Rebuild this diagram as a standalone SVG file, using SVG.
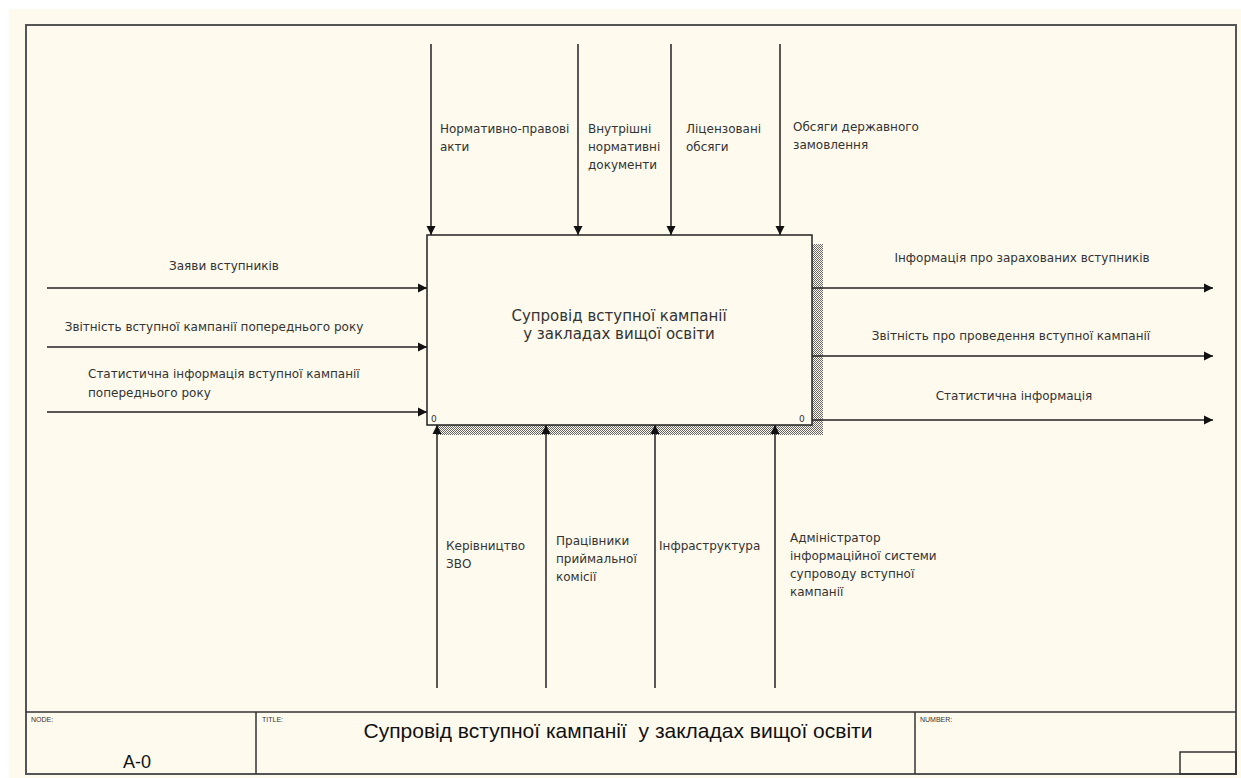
<svg xmlns="http://www.w3.org/2000/svg" width="1241" height="778" viewBox="0 0 1241 778">
<style>
.lbl{font-family:"DejaVu Sans","Liberation Sans",Arial,sans-serif;font-size:12px;fill:#333}
.box{fill:#fefaee;stroke:#222;stroke-width:1.5}
.arr{stroke:#222;stroke-width:1.5;fill:none;marker-end:url(#ah)}
.frame{fill:none;stroke:#555;stroke-width:2}
.fl{stroke:#333;stroke-width:1.5;fill:none}
.small{font-family:"Liberation Sans",Arial,sans-serif;font-size:7px;fill:#333}
.big{font-family:"Liberation Sans",Arial,sans-serif;fill:#111}
</style>
<defs>
<marker id="ah" viewBox="0 0 9 10" refX="9" refY="5" markerWidth="9" markerHeight="10" markerUnits="userSpaceOnUse" orient="auto">
<path d="M0,0.5 L9,5 L0,9.5 Z" fill="#111"/>
</marker>
<pattern id="hatch" width="2" height="2" patternUnits="userSpaceOnUse">
<rect width="2" height="2" fill="#fefaee"/>
<rect x="0" y="0" width="1" height="1" fill="#666"/>
<rect x="1" y="1" width="1" height="1" fill="#666"/>
</pattern>
</defs>
<rect x="0" y="0" width="1241" height="778" fill="#ffffff"/>
<rect x="9" y="9" width="1232" height="769" fill="#fefaee"/>
<rect class="frame" x="26" y="25" width="1210" height="749"/>

<g id="node-A0">
<rect x="812" y="244" width="11" height="191" fill="url(#hatch)"/>
<rect x="436" y="425" width="387" height="10" fill="url(#hatch)"/>
<rect class="box" x="427" y="235" width="385" height="190"/>
<text class="lbl" x="619" y="321" text-anchor="middle" style="font-size:15px">Супровід вступної кампанії</text>
<text class="lbl" x="619" y="339" text-anchor="middle" style="font-size:15px">у закладах вищої освіти</text>
<text class="lbl" x="431" y="422" style="font-size:9px">0</text>
<text class="lbl" x="799" y="422" style="font-size:9px">0</text>
</g>

<g id="connectors">
<line class="arr" x1="431" y1="44" x2="431" y2="235"/>
<line class="arr" x1="578" y1="44" x2="578" y2="235"/>
<line class="arr" x1="671" y1="44" x2="671" y2="235"/>
<line class="arr" x1="780" y1="44" x2="780" y2="235"/>
<line class="arr" x1="47" y1="288" x2="427" y2="288"/>
<line class="arr" x1="47" y1="347" x2="427" y2="347"/>
<line class="arr" x1="47" y1="412" x2="427" y2="412"/>
<line class="arr" x1="812" y1="288" x2="1213" y2="288"/>
<line class="arr" x1="812" y1="356" x2="1213" y2="356"/>
<line class="arr" x1="812" y1="420" x2="1213" y2="420"/>
<line class="arr" x1="437" y1="688" x2="437" y2="425"/>
<line class="arr" x1="546" y1="688" x2="546" y2="425"/>
<line class="arr" x1="655" y1="688" x2="655" y2="425"/>
<line class="arr" x1="775" y1="688" x2="775" y2="425"/>
</g>

<g id="labels">
<text class="lbl" x="440" y="133">Нормативно-правові</text>
<text class="lbl" x="440" y="151">акти</text>
<text class="lbl" x="588" y="133">Внутрішні</text>
<text class="lbl" x="588" y="151">нормативні</text>
<text class="lbl" x="588" y="169">документи</text>
<text class="lbl" x="686" y="133">Ліцензовані</text>
<text class="lbl" x="686" y="151">обсяги</text>
<text class="lbl" x="793" y="131">Обсяги державного</text>
<text class="lbl" x="793" y="149">замовлення</text>

<text class="lbl" x="224" y="270" text-anchor="middle">Заяви вступників</text>
<text class="lbl" x="214" y="331" text-anchor="middle">Звітність вступної кампанії попереднього року</text>
<text class="lbl" x="88" y="378">Статистична інформація вступної кампанії</text>
<text class="lbl" x="88" y="397">попереднього року</text>

<text class="lbl" x="1022" y="262" text-anchor="middle">Інформація про зарахованих вступників</text>
<text class="lbl" x="1011" y="340" text-anchor="middle">Звітність про проведення вступної кампанії</text>
<text class="lbl" x="1014" y="400" text-anchor="middle">Статистична інформація</text>

<text class="lbl" x="446" y="550">Керівництво</text>
<text class="lbl" x="446" y="568">ЗВО</text>
<text class="lbl" x="556" y="545">Працівники</text>
<text class="lbl" x="556" y="563">приймальної</text>
<text class="lbl" x="556" y="581">комісії</text>
<text class="lbl" x="659" y="550">Інфраструктура</text>
<text class="lbl" x="790" y="542">Адміністратор</text>
<text class="lbl" x="790" y="560">інформаційної системи</text>
<text class="lbl" x="790" y="578">супроводу вступної</text>
<text class="lbl" x="790" y="596">кампанії</text>
</g>

<g id="footer">
<line class="fl" x1="26" y1="712" x2="1236" y2="712"/>
<line class="fl" x1="256" y1="712" x2="256" y2="774"/>
<line class="fl" x1="915" y1="712" x2="915" y2="774"/>
<rect class="fl" x="1180" y="752" width="56" height="22"/>
<text class="small" x="31" y="722">NODE:</text>
<text class="small" x="262" y="722">TITLE:</text>
<text class="small" x="920" y="722">NUMBER:</text>
<text class="big" x="137" y="768" text-anchor="middle" style="font-size:18px">A-0</text>
<text class="big" x="618" y="738" text-anchor="middle" xml:space="preserve" style="font-size:21px">Супровід вступної кампанії  у закладах вищої освіти</text>
</g>
</svg>
